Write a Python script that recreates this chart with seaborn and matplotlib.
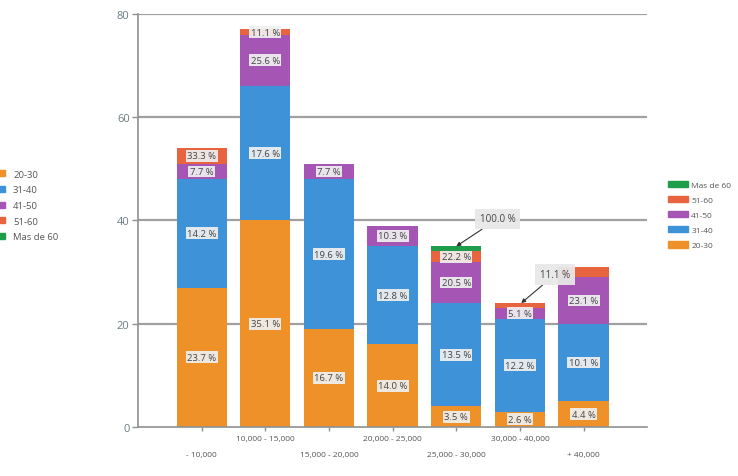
import numpy as np
import pandas as pd
import matplotlib
matplotlib.use('Agg')
import matplotlib.pyplot as plt
import seaborn as sns
from matplotlib.patches import Patch
from matplotlib.lines import Line2D

categories = ['- 10,000', '10,000 - 15,000', '15,000 - 20,000', '20,000 - 25,000',
              '25,000 - 30,000', '30,000 - 40,000', '+ 40,000']
series_names = ['20-30', '31-40', '41-50', '51-60', 'Mas de 60']
g20_30 = [27, 40, 19, 16, 4, 3, 5]
g31_40 = [21, 26, 29, 19, 20, 18, 15]
g41_50 = [3, 10, 3, 4, 8, 2, 9]
g51_60 = [3, 1, 0, 0, 2, 1, 2]
g60 = [0, 0, 0, 0, 1, 0, 0]
yticks = [0, 20, 40, 60, 80]

colors = ['#EE9128', '#3D92D8', '#A555B4', '#E8643E', '#1E9E4A']

sns.set_theme(style='white')
plt.rcParams['font.family'] = ['Open Sans', 'DejaVu Sans']

df = pd.DataFrame({'cat': categories, '20-30': g20_30, '31-40': g31_40,
                   '41-50': g41_50, '51-60': g51_60, 'Mas de 60': g60})
cum = df[series_names].cumsum(axis=1)

fig = plt.figure(figsize=(7.38, 4.77), dpi=100)
ax = fig.add_axes([0.187, 0.1027, 0.69, 0.866])

# stacked bars: draw cumulative totals from top series down
for name, c in reversed(list(zip(series_names, colors))):
    sns.barplot(x=df['cat'], y=cum[name], color=c, saturation=1, width=0.79,
                ax=ax, order=categories, linewidth=0)

ax.set_xlim(-1, 7)
ax.set_ylim(0, 80)
ax.set_yticks(yticks)
for y in yticks[1:]:
    ax.axhline(y, color='#a0a0a0', lw=1.6, zorder=0)
ax.set_xlabel('')
ax.set_ylabel('')
for s in ['top', 'right']:
    ax.spines[s].set_visible(False)
for s in ['left', 'bottom']:
    ax.spines[s].set_color('#909090')
    ax.spines[s].set_linewidth(1.2)
ax.tick_params(axis='y', left=True, length=4, width=1, color='#909090',
               labelsize=8, labelcolor='#6b7c82', pad=2)
ax.tick_params(axis='x', bottom=True, length=3, width=1, color='#909090',
               labelsize=6, labelcolor='#555555', direction='out')
ax.set_xticks(range(len(categories)))
ax.set_xticklabels(categories)
for i, t in enumerate(ax.xaxis.get_major_ticks()):
    t.set_pad(3 if i % 2 else 14)

# percentage labels (share of each series' total)
box = dict(boxstyle='square,pad=0.15', fc='#f0f0f0', ec='none', alpha=0.92)
for k, name in enumerate(series_names):
    vals = df[name].values
    total = vals.sum()
    base = cum[name].values - vals
    for i, v in enumerate(vals):
        if v == 0:
            continue
        if (k == 3 and i in (5, 6)) or k == 4:
            continue
        ax.text(i, base[i] + v / 2, f'{100 * v / total:.1f} %', ha='center',
                va='center', fontsize=6.8, color='#444444', bbox=box, zorder=5)

callout = dict(boxstyle='square,pad=0.5', fc='#e8e8e8', ec='none', alpha=0.95)
arrow = dict(arrowstyle='-|>', color='#333333', lw=0.8, shrinkA=0, shrinkB=0,
             mutation_scale=6)
ax.annotate(f'{100 * g60[4] / sum(g60):.1f} %', xy=(4, cum['Mas de 60'][4]),
            xytext=(4.65, 40.3), ha='center', va='center', fontsize=7,
            color='#444444', bbox=callout, arrowprops=arrow, zorder=6)
ax.annotate(f'{100 * g51_60[5] / sum(g51_60):.1f} %', xy=(5.02, cum['51-60'][5]),
            xytext=(5.55, 29.5), ha='center', va='center', fontsize=7,
            color='#444444', bbox=callout, arrowprops=arrow, zorder=6)

# left legend (cut off at the figure edge)
left_handles = [Line2D([], [], ls='', marker='s', markersize=5, color=c)
                for c in colors]
fig.legend(left_handles, series_names, loc='upper left',
           bbox_to_anchor=(-0.022, 0.66), frameon=False, fontsize=6.8,
           handletextpad=0.2, labelspacing=0.7, labelcolor='#555555')

# right legend
right_handles = [Patch(color=c) for c in colors][::-1]
fig.legend(right_handles, series_names[::-1], loc='upper left',
           bbox_to_anchor=(0.895, 0.635), frameon=False, fontsize=6,
           handlelength=2.4, handleheight=0.8, handletextpad=0.4,
           labelspacing=0.85, labelcolor='#555555')

fig.savefig('out.png', dpi=100)
